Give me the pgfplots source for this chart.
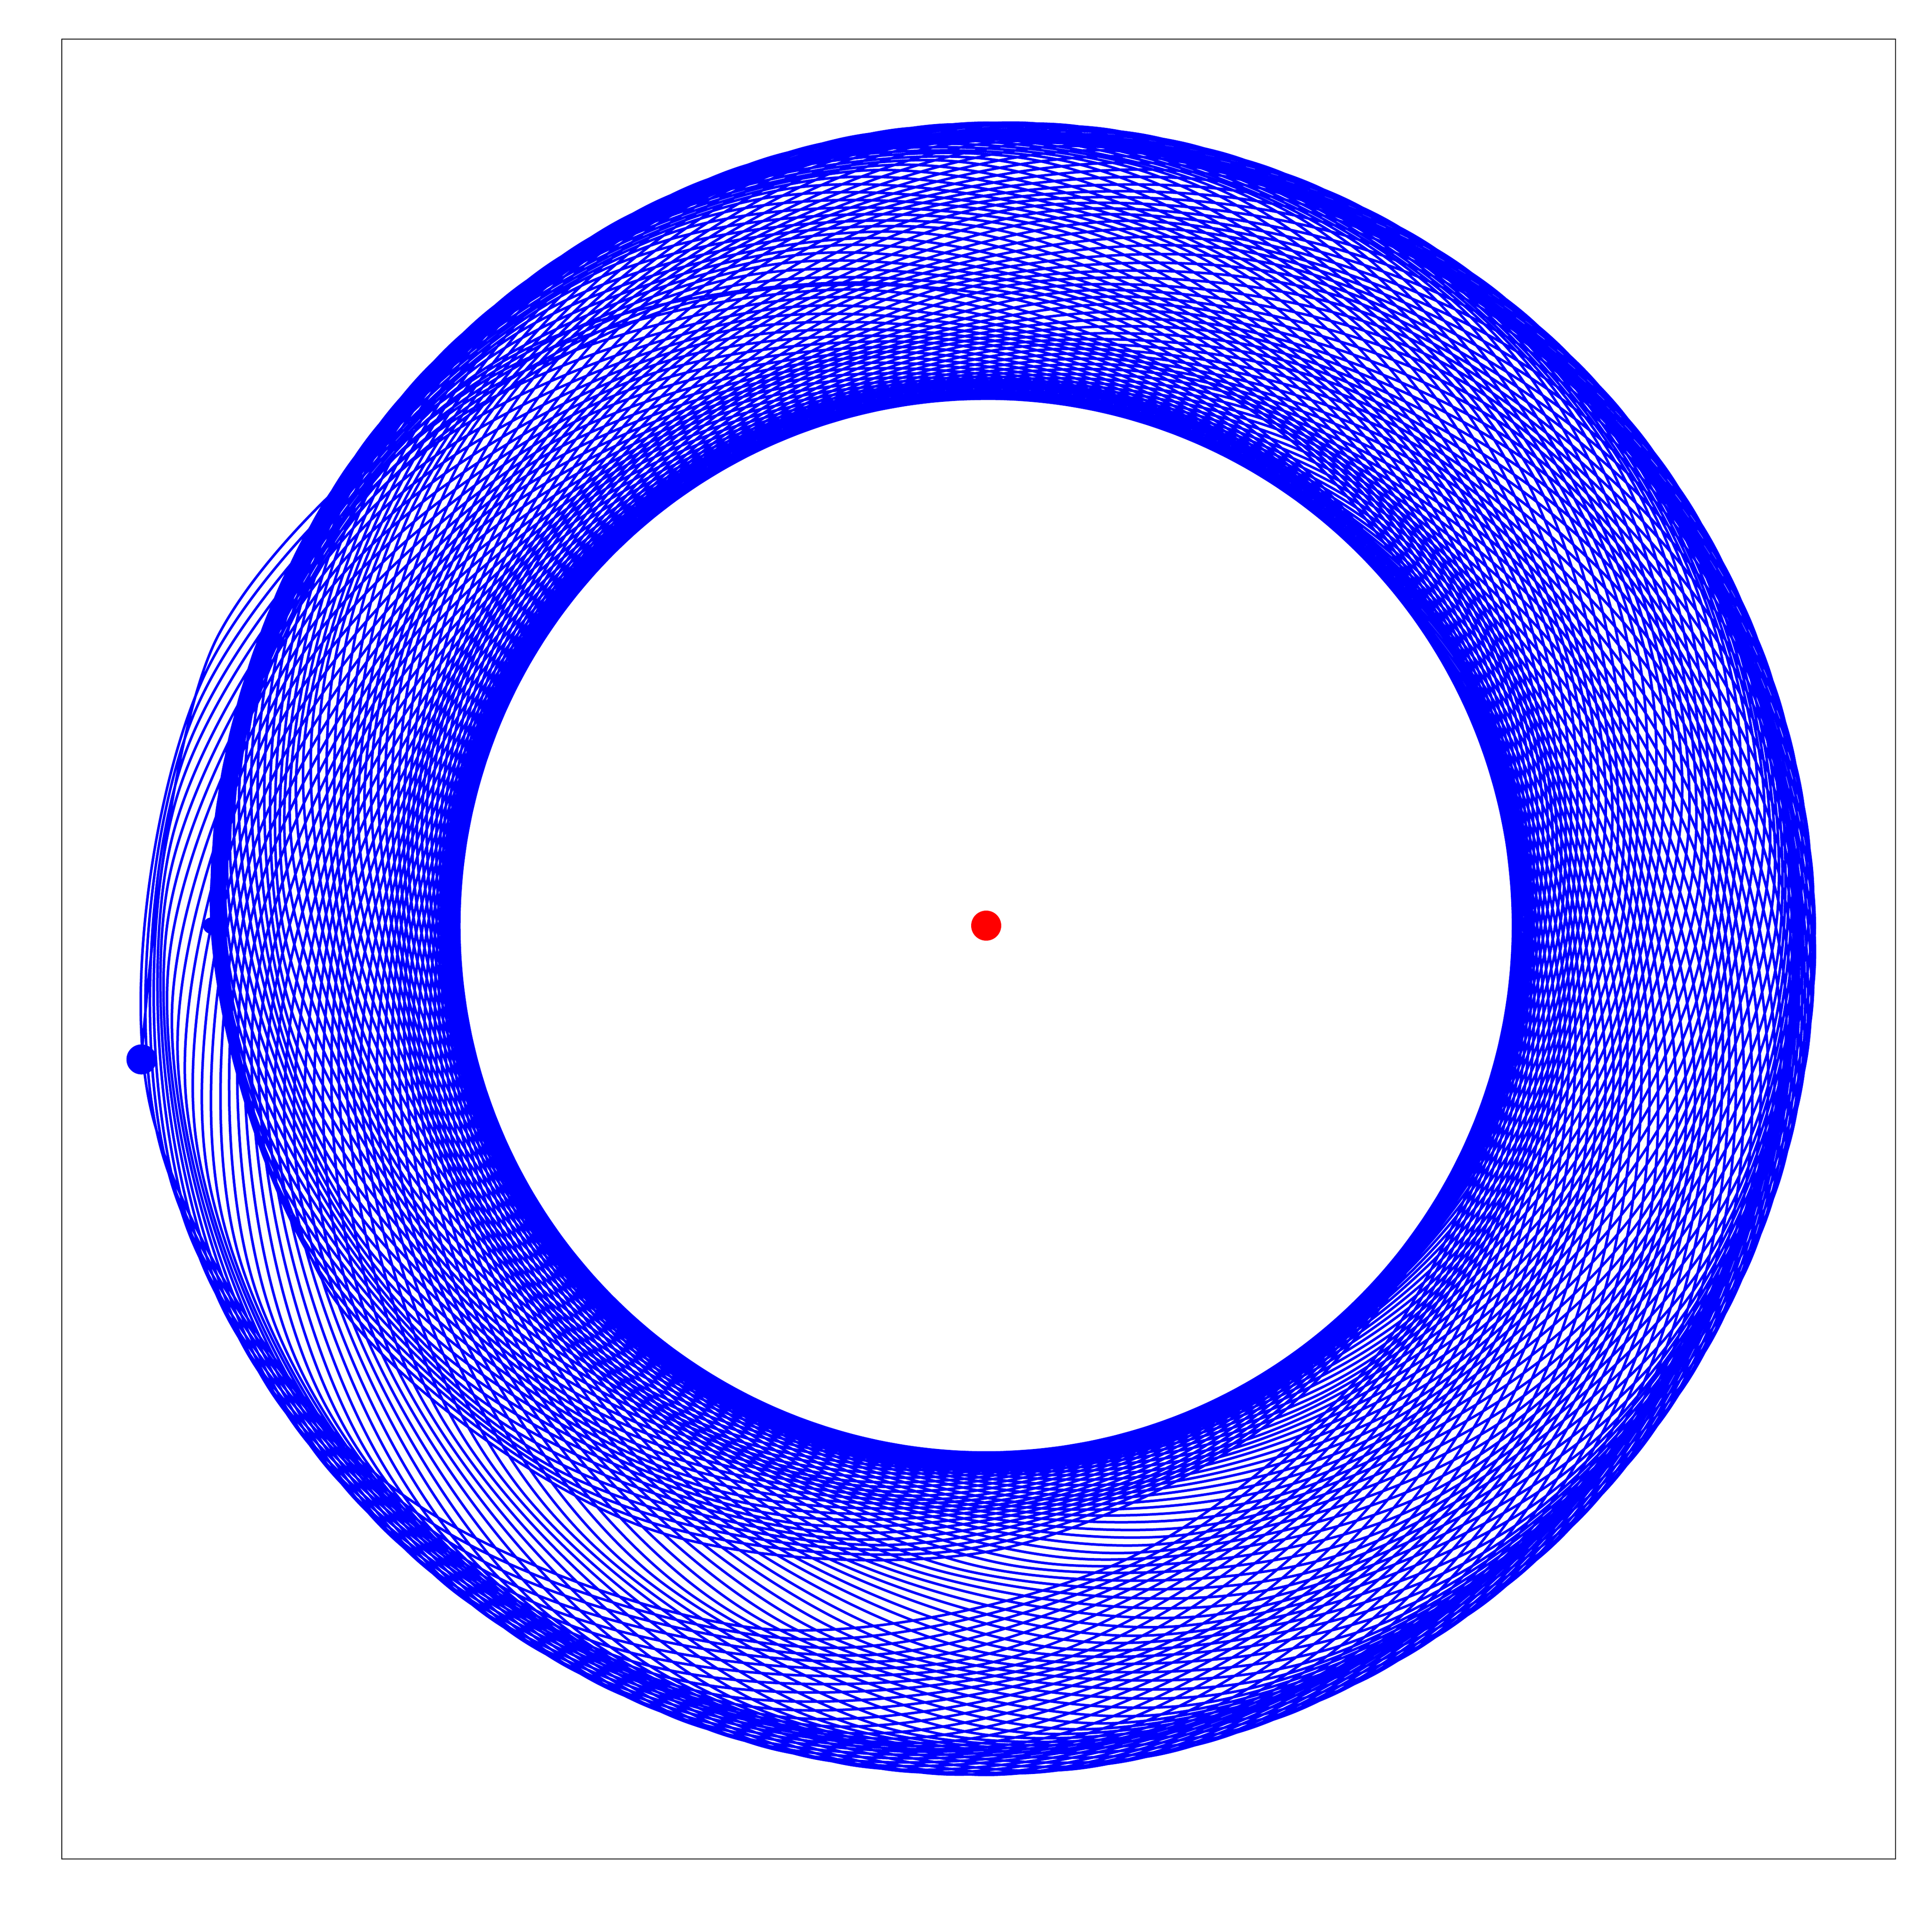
\documentclass[border=0pt]{standalone}
\usepackage{pgfplots}
\usepgfplotslibrary{polar}
\pgfplotsset{compat=1.18}
\begin{document}
\begin{tikzpicture}
\begin{axis}[
  scale only axis,
  width=427.1pt, height=423.9pt,
  xmin=-2153, xmax=2118, ymin=-2174, ymax=2065,
  xtick=\empty, ytick=\empty,
  axis line style={line width=0.25pt, black},
]
% orbit, polar data (angle in degrees, radius), one line per revolution
\addplot[blue, line width=0.6pt, smooth, tension=0.53, data cs=polar] coordinates {
(180,1805) (209.75,1750) (239.5,1616) (269.25,1462) (299,1335) (328.75,1255) (358.5,1228) (388.25,1255) (418,1335) (447.75,1462) (477.5,1617) (507.25,1751)
(177,1807) (206.75,1751) (236.5,1617) (266.25,1462) (296,1335) (325.75,1255) (355.5,1228) (385.25,1255) (415,1335) (444.75,1463) (474.5,1618) (504.25,1753)
(174,1809) (203.75,1753) (233.5,1618) (263.25,1463) (293,1335) (322.75,1255) (352.5,1228) (382.25,1255) (412,1335) (441.75,1464) (471.5,1620) (501.25,1756)
(171,1812) (200.75,1756) (230.5,1620) (260.25,1464) (290,1335) (319.75,1255) (349.5,1228) (379.25,1255) (409,1336) (438.75,1465) (468.5,1621) (498.25,1757)
(168,1814) (197.75,1757) (227.5,1621) (257.25,1465) (287,1336) (316.75,1255) (346.5,1228) (376.25,1255) (406,1336) (435.75,1465) (465.5,1622) (495.25,1759)
(165,1816) (194.75,1759) (224.5,1622) (254.25,1465) (284,1336) (313.75,1255) (343.5,1228) (373.25,1255) (403,1336) (432.75,1466) (462.5,1623) (492.25,1761)
(162,1818) (191.75,1761) (221.5,1623) (251.25,1466) (281,1336) (310.75,1255) (340.5,1228) (370.25,1255) (400,1336) (429.75,1466) (459.5,1624) (489.25,1763)
(159,1820) (188.75,1763) (218.5,1624) (248.25,1466) (278,1336) (307.75,1255) (337.5,1228) (367.25,1255) (397,1337) (426.75,1467) (456.5,1626) (486.25,1764)
(156,1822) (185.75,1764) (215.5,1626) (245.25,1467) (275,1337) (304.75,1255) (334.5,1228) (364.25,1255) (394,1337) (423.75,1468) (453.5,1627) (483.25,1767)
(153,1825) (182.75,1767) (212.5,1627) (242.25,1468) (272,1337) (301.75,1255) (331.5,1228) (361.25,1256) (391,1337) (420.75,1469) (450.5,1628) (480.25,1769)
(150,1827) (179.75,1769) (209.5,1628) (239.25,1469) (269,1337) (298.75,1256) (328.5,1228) (358.25,1256) (388,1338) (417.75,1469) (447.5,1630) (477.25,1770)
(147,1829) (176.75,1770) (206.5,1630) (236.25,1469) (266,1338) (295.75,1256) (325.5,1228) (355.25,1256) (385,1338) (414.75,1470) (444.5,1631) (474.25,1772)
(144,1831) (173.75,1772) (203.5,1631) (233.25,1470) (263,1338) (292.75,1256) (322.5,1228) (352.25,1256) (382,1338) (411.75,1470) (441.5,1632) (471.25,1774)
(141,1833) (170.75,1774) (200.5,1632) (230.25,1470) (260,1338) (289.75,1256) (319.5,1228) (349.25,1256) (379,1338) (408.75,1471) (438.5,1633) (468.25,1776)
(138,1835) (167.75,1776) (197.5,1633) (227.25,1471) (257,1338) (286.75,1256) (316.5,1228) (346.25,1256) (376,1339) (405.75,1472) (435.5,1635) (465.25,1778)
(135,1838) (164.75,1778) (194.5,1635) (224.25,1472) (254,1339) (283.75,1256) (313.5,1228) (343.25,1256) (373,1339) (402.75,1472) (432.5,1636) (462.25,1780)
(132,1840) (161.75,1780) (191.5,1636) (221.25,1472) (251,1339) (280.75,1256) (310.5,1228) (340.25,1256) (370,1339) (399.75,1473) (429.5,1637) (459.25,1782)
(129,1842) (158.75,1782) (188.5,1637) (218.25,1473) (248,1339) (277.75,1256) (307.5,1228) (337.25,1256) (367,1339) (396.75,1474) (426.5,1638) (456.25,1783)
(126,1844) (155.75,1783) (185.5,1638) (215.25,1474) (245,1339) (274.75,1256) (304.5,1228) (334.25,1256) (364,1340) (393.75,1474) (423.5,1639) (453.25,1785)
(123,1846) (152.75,1785) (182.5,1639) (212.25,1474) (242,1340) (271.75,1256) (301.5,1228) (331.25,1256) (361,1340) (390.75,1475) (420.5,1641) (450.25,1787)
(120,1848) (149.75,1787) (179.5,1641) (209.25,1475) (239,1340) (268.75,1256) (298.5,1228) (328.25,1256) (358,1340) (387.75,1476) (417.5,1642) (447.25,1790)
(117,1851) (146.75,1790) (176.5,1642) (206.25,1476) (236,1340) (265.75,1256) (295.5,1228) (325.25,1256) (355,1341) (384.75,1477) (414.5,1644) (444.25,1791)
(114,1853) (143.75,1791) (173.5,1644) (203.25,1477) (233,1341) (262.75,1256) (292.5,1228) (322.25,1256) (352,1341) (381.75,1477) (411.5,1645) (441.25,1793)
(111,1855) (140.75,1793) (170.5,1645) (200.25,1477) (230,1341) (259.75,1256) (289.5,1228) (319.25,1256) (349,1341) (378.75,1478) (408.5,1646) (438.25,1795)
(108,1857) (137.75,1795) (167.5,1646) (197.25,1478) (227,1341) (256.75,1256) (286.5,1228) (316.25,1256) (346,1341) (375.75,1478) (405.5,1647) (435.25,1797)
(105,1859) (134.75,1797) (164.5,1647) (194.25,1478) (224,1341) (253.75,1256) (283.5,1228) (313.25,1256) (343,1342) (372.75,1479) (402.5,1648) (432.25,1798)
(102,1861) (131.75,1798) (161.5,1648) (191.25,1479) (221,1342) (250.75,1256) (280.5,1228) (310.25,1257) (340,1342) (369.75,1480) (399.5,1650) (429.25,1801)
(99,1864) (128.75,1801) (158.5,1650) (188.25,1480) (218,1342) (247.75,1257) (277.5,1228) (307.25,1257) (337,1342) (366.75,1480) (396.5,1651) (426.25,1803)
(96,1866) (125.75,1803) (155.5,1651) (185.25,1480) (215,1342) (244.75,1257) (274.5,1228) (304.25,1257) (334,1342) (363.75,1481) (393.5,1652) (423.25,1804)
(93,1868) (122.75,1804) (152.5,1652) (182.25,1481) (212,1342) (241.75,1257) (271.5,1228) (301.25,1257) (331,1343) (360.75,1482) (390.5,1653) (420.25,1806)
(90,1870) (119.75,1806) (149.5,1653) (179.25,1482) (209,1343) (238.75,1257) (268.5,1228) (298.25,1257) (328,1343) (357.75,1482) (387.5,1655) (417.25,1808)
(87,1872) (116.75,1808) (146.5,1655) (176.25,1482) (206,1343) (235.75,1257) (265.5,1228) (295.25,1257) (325,1343) (354.75,1483) (384.5,1656) (414.25,1810)
(84,1874) (113.75,1810) (143.5,1656) (173.25,1483) (203,1343) (232.75,1257) (262.5,1228) (292.25,1257) (322,1343) (351.75,1484) (381.5,1657) (411.25,1811)
(81,1876) (110.75,1811) (140.5,1657) (170.25,1484) (200,1343) (229.75,1257) (259.5,1228) (289.25,1257) (319,1344) (348.75,1484) (378.5,1658) (408.25,1813)
(78,1878) (107.75,1813) (137.5,1658) (167.25,1484) (197,1344) (226.75,1257) (256.5,1228) (286.25,1257) (316,1344) (345.75,1485) (375.5,1659) (405.25,1815)
(75,1880) (104.75,1815) (134.5,1659) (164.25,1485) (194,1344) (223.75,1257) (253.5,1228) (283.25,1257) (313,1344) (342.75,1485) (372.5,1660) (402.25,1816)
(72,1882) (101.75,1816) (131.5,1660) (161.25,1485) (191,1344) (220.75,1257) (250.5,1228) (280.25,1257) (310,1345) (339.75,1486) (369.5,1661) (399.25,1818)
(69,1884) (98.75,1818) (128.5,1661) (158.25,1486) (188,1345) (217.75,1257) (247.5,1228) (277.25,1257) (307,1345) (336.75,1487) (366.5,1663) (396.25,1820)
(66,1886) (95.75,1820) (125.5,1663) (155.25,1487) (185,1345) (214.75,1257) (244.5,1228) (274.25,1257) (304,1345) (333.75,1487) (363.5,1664) (393.25,1822)
(63,1888) (92.75,1822) (122.5,1664) (152.25,1487) (182,1345) (211.75,1257) (241.5,1228) (271.25,1257) (301,1345) (330.75,1488) (360.5,1665) (390.25,1823)
(60,1890) (89.75,1823) (119.5,1665) (149.25,1488) (179,1345) (208.75,1257) (238.5,1228) (268.25,1257) (298,1346) (327.75,1488) (357.5,1666) (387.25,1825)
(57,1892) (86.75,1825) (116.5,1666) (146.25,1488) (176,1346) (205.75,1257) (235.5,1228) (265.25,1257) (295,1346) (324.75,1489) (354.5,1667) (384.25,1827)
(54,1894) (83.75,1827) (113.5,1667) (143.25,1489) (173,1346) (202.75,1257) (232.5,1228) (262.25,1257) (292,1346) (321.75,1490) (351.5,1668) (381.25,1829)
(51,1896) (80.75,1829) (110.5,1668) (140.25,1490) (170,1346) (199.75,1257) (229.5,1228) (259.25,1257) (289,1346) (318.75,1490) (348.5,1670) (378.25,1830)
(48,1898) (77.75,1830) (107.5,1670) (137.25,1490) (167,1346) (196.75,1257) (226.5,1228) (256.25,1258) (286,1347) (315.75,1491) (345.5,1671) (375.25,1832)
(45,1900) (74.75,1832) (104.5,1671) (134.25,1491) (164,1347) (193.75,1258) (223.5,1228) (253.25,1258) (283,1347) (312.75,1492) (342.5,1672) (372.25,1834)
(42,1902) (71.75,1834) (101.5,1672) (131.25,1492) (161,1347) (190.75,1258) (220.5,1228) (250.25,1258) (280,1347) (309.75,1492) (339.5,1673) (369.25,1836)
(39,1904) (68.75,1836) (98.5,1673) (128.25,1492) (158,1347) (187.75,1258) (217.5,1228) (247.25,1258) (277,1347) (306.75,1493) (336.5,1674) (366.25,1837)
(36,1906) (65.75,1837) (95.5,1674) (125.25,1493) (155,1347) (184.75,1258) (214.5,1228) (244.25,1258) (274,1348) (303.75,1493) (333.5,1675) (363.25,1839)
(33,1908) (62.75,1839) (92.5,1675) (122.25,1493) (152,1348) (181.75,1258) (211.5,1228) (241.25,1258) (271,1348) (300.75,1494) (330.5,1677) (360.25,1841)
(30,1910) (59.75,1841) (89.5,1677) (119.25,1494) (149,1348) (178.75,1258) (208.5,1228) (238.25,1258) (268,1348) (297.75,1495) (327.5,1678) (357.25,1843)
(27,1912) (56.75,1843) (86.5,1678) (116.25,1495) (146,1348) (175.75,1258) (205.5,1228) (235.25,1258) (265,1348) (294.75,1495) (324.5,1679) (354.25,1844)
(24,1914) (53.75,1844) (83.5,1679) (113.25,1495) (143,1348) (172.75,1258) (202.5,1228) (232.25,1258) (262,1349) (291.75,1496) (321.5,1680) (351.25,1846)
(21,1916) (50.75,1846) (80.5,1680) (110.25,1496) (140,1349) (169.75,1258) (199.5,1228) (229.25,1258) (259,1349) (288.75,1496) (318.5,1681) (348.25,1848)
(18,1918) (47.75,1848) (77.5,1681) (107.25,1496) (137,1349) (166.75,1258) (196.5,1228) (226.25,1258) (256,1349) (285.75,1497) (315.5,1682) (345.25,1850)
(15,1920) (44.75,1850) (74.5,1682) (104.25,1497) (134,1349) (163.75,1258) (193.5,1228) (223.25,1258) (253,1349) (282.75,1498) (312.5,1683) (342.25,1851)
(12,1922) (41.75,1851) (71.5,1683) (101.25,1498) (131,1349) (160.75,1258) (190.5,1228) (220.25,1258) (250,1350) (279.75,1498) (309.5,1685) (339.25,1853)
(9,1924) (38.75,1853) (68.5,1685) (98.25,1498) (128,1350) (157.75,1258) (187.5,1228) (217.25,1258) (247,1350) (276.75,1499) (306.5,1686) (336.25,1855)
(6,1926) (35.75,1855) (65.5,1686) (95.25,1499) (125,1350) (154.75,1258) (184.5,1228) (214.25,1258) (244,1350) (273.75,1499) (303.5,1687) (333.25,1856)
(3,1928) (32.75,1856) (62.5,1687) (92.25,1499) (122,1350) (151.75,1258) (181.5,1228) (211.25,1258) (241,1350) (270.75,1500) (300.5,1688) (330.25,1858)
(0,1930) (29.75,1858) (59.5,1688) (89.25,1500) (119,1350) (148.75,1258) (178.5,1228) (208.25,1258) (238,1351) (267.75,1501) (297.5,1689) (327.25,1860)
(357,1932) (386.75,1860) (416.5,1689) (446.25,1501) (476,1351) (505.75,1258) (535.5,1228) (565.25,1258) (595,1351) (624.75,1501) (654.5,1690) (684.25,1861)
(354,1933) (383.75,1861) (413.5,1690) (443.25,1501) (473,1351) (502.75,1258) (532.5,1228) (562.25,1258) (592,1351) (621.75,1502) (651.5,1691) (681.25,1863)
(351,1935) (380.75,1863) (410.5,1691) (440.25,1502) (470,1351) (499.75,1258) (529.5,1228) (559.25,1258) (589,1351) (618.75,1502) (648.5,1692) (678.25,1863)
(348,1936) (377.75,1863) (407.5,1692) (437.25,1502) (467,1351) (496.75,1258) (526.5,1228) (556.25,1259) (586,1351) (615.75,1503) (645.5,1693) (675.25,1865)
(345,1938) (374.75,1865) (404.5,1693) (434.25,1503) (464,1351) (493.75,1259) (523.5,1228) (553.25,1259) (583,1352) (612.75,1503) (642.5,1694) (672.25,1867)
(342,1940) (371.75,1867) (401.5,1694) (431.25,1503) (461,1352) (490.75,1259) (520.5,1228) (550.25,1259) (580,1352) (609.75,1503) (639.5,1694) (669.25,1868)
(339,1941) (368.75,1868) (398.5,1694) (428.25,1503) (458,1352) (487.75,1259) (517.5,1228) (547.25,1259) (577,1352) (606.75,1504) (636.5,1696) (666.25,1869)
(336,1943) (365.75,1869) (395.5,1696) (425.25,1504) (455,1352) (484.75,1259) (514.5,1228) (544.25,1259) (574,1352) (603.75,1504) (633.5,1696) (663.25,1870)
(333,1944) (362.75,1870) (392.5,1696) (422.25,1504) (452,1352) (481.75,1259) (511.5,1228) (541.25,1259) (571,1352) (600.75,1505) (630.5,1697) (660.25,1872)
(330,1946) (359.75,1872) (389.5,1697) (419.25,1505) (449,1352) (478.75,1259) (508.5,1228) (538.25,1259) (568,1353) (597.75,1506) (627.5,1699) (657.25,1874)
(327,1948) (356.75,1874) (386.5,1699) (416.25,1506) (446,1353) (475.75,1259) (505.5,1228) (535.25,1259) (565,1353) (594.75,1506) (624.5,1699) (654.25,1875)
(324,1949) (353.75,1875) (383.5,1699) (413.25,1506) (443,1353) (472.75,1259) (502.5,1228) (532.25,1259) (562,1353) (591.75,1507) (621.5,1700) (651.25,1876)
(321,1951) (350.75,1876) (380.5,1700) (410.25,1507) (440,1353) (469.75,1259) (499.5,1228) (529.25,1259) (559,1353) (588.75,1507) (618.5,1701) (648.25,1877)
(318,1952) (347.75,1877) (377.5,1701) (407.25,1507) (437,1353) (466.75,1259) (496.5,1228) (526.25,1259) (556,1353) (585.75,1507) (615.5,1702) (645.25,1879)
(315,1954) (344.75,1879) (374.5,1702) (404.25,1507) (434,1353) (463.75,1259) (493.5,1228) (523.25,1259) (553,1354) (582.75,1508) (612.5,1703) (642.25,1881)
(312,1956) (341.75,1881) (371.5,1703) (401.25,1508) (431,1354) (460.75,1259) (490.5,1228) (520.25,1259) (550,1354) (579.75,1508) (609.5,1704) (639.25,1882)
(309,1957) (338.75,1882) (368.5,1704) (398.25,1508) (428,1354) (457.75,1259) (487.5,1228) (517.25,1259) (547,1354) (576.75,1509) (606.5,1705) (636.25,1883)
(306,1959) (335.75,1883) (365.5,1705) (395.25,1509) (425,1354) (454.75,1259) (484.5,1228) (514.25,1259) (544,1354) (573.75,1509) (603.5,1705) (633.25,1884)
(303,1960) (332.75,1884) (362.5,1705) (392.25,1509) (422,1354) (451.75,1259) (481.5,1228) (511.25,1259) (541,1354) (570.75,1510) (600.5,1707) (630.25,1886)
(300,1962) (329.75,1886) (359.5,1707) (389.25,1510) (419,1354) (448.75,1259) (478.5,1228) (508.25,1259) (538,1355) (567.75,1510) (597.5,1708) (627.25,1888)
(297,1964) (326.75,1888) (356.5,1708) (386.25,1510) (416,1355) (445.75,1259) (475.5,1228) (505.25,1259) (535,1355) (564.75,1511) (594.5,1708) (624.25,1889)
(294,1965) (323.75,1889) (353.5,1708) (383.25,1511) (413,1355) (442.75,1259) (472.5,1228) (502.25,1259) (532,1355) (561.75,1511) (591.5,1710) (621.25,1890)
(291,1967) (320.75,1890) (350.5,1710) (380.25,1511) (410,1355) (439.75,1259) (469.5,1228) (499.25,1259) (529,1355) (558.75,1512) (588.5,1710) (618.25,1891)
(288,1968) (317.75,1891) (347.5,1710) (377.25,1512) (407,1355) (436.75,1259) (466.5,1228) (496.25,1259) (526,1355) (555.75,1512) (585.5,1711) (615.25,1893)
(285,1970) (314.75,1893) (344.5,1711) (374.25,1512) (404,1355) (433.75,1259) (463.5,1228) (493.25,1259) (523,1356) (552.75,1513) (582.5,1712) (612.25,1895)
(282,1972) (311.75,1895) (341.5,1712) (371.25,1513) (401,1356) (430.75,1259) (460.5,1228) (490.25,1259) (520,1356) (549.75,1513) (579.5,1713) (609.25,1896)
(279,1973) (308.75,1896) (338.5,1713) (368.25,1513) (398,1356) (427.75,1259) (457.5,1228) (487.25,1260) (517,1356) (546.75,1514) (576.5,1714) (606.25,1897)
(276,1975) (305.75,1897) (335.5,1714) (365.25,1514) (395,1356) (424.75,1260) (454.5,1228) (484.25,1260) (514,1356) (543.75,1514) (573.5,1715) (603.25,1898)
(273,1976) (302.75,1898) (332.5,1715) (362.25,1514) (392,1356) (421.75,1260) (451.5,1228) (481.25,1260) (511,1356) (540.75,1515) (570.5,1716) (600.25,1900)
(270,1978) (299.75,1900) (329.5,1716) (359.25,1515) (389,1356) (418.75,1260) (448.5,1228) (478.25,1260) (508,1356) (537.75,1515) (567.5,1716) (597.25,1901)
(267,1979) (296.75,1901) (326.5,1716) (356.25,1515) (386,1356) (415.75,1260) (445.5,1228) (475.25,1260) (505,1356) (534.75,1515) (564.5,1716) (594.25,1901)
(264,1979) (293.75,1901) (323.5,1716) (353.25,1515) (383,1356) (412.75,1260) (442.5,1228) (472.25,1260) (502,1357) (531.75,1515) (561.5,1717) (591.25,1902)
(261,1980) (290.75,1902) (320.5,1717) (350.25,1515) (380,1357) (409.75,1260) (439.5,1228) (469.25,1260) (499,1357) (528.75,1515) (558.5,1717) (588.25,1902)
(258,1980) (287.75,1902) (317.5,1717) (347.25,1515) (377,1357) (406.75,1260) (436.5,1228) (466.25,1260) (496,1357) (525.75,1516) (555.5,1718) (585.25,1903)
(255,1981) (284.75,1903) (314.5,1718) (344.25,1516) (374,1357) (403.75,1260) (433.5,1228) (463.25,1260) (493,1357) (522.75,1516) (552.5,1718) (582.25,1903)
(252,1981) (281.75,1903) (311.5,1718) (341.25,1516) (371,1357) (400.75,1260) (430.5,1228) (460.25,1260) (490,1357) (519.75,1516) (549.5,1718) (579.25,1903)
(249,1982) (278.75,1903) (308.5,1718) (338.25,1516) (368,1357) (397.75,1260) (427.5,1228) (457.25,1260) (487,1357) (516.75,1516) (546.5,1718) (576.25,1903)
(246,1982) (275.75,1903) (305.5,1718) (335.25,1516) (365,1357) (394.75,1260) (424.5,1228) (454.25,1260) (484,1357) (513.75,1516) (543.5,1719) (573.25,1904)
(243,1983) (272.75,1904) (302.5,1719) (332.25,1516) (362,1357) (391.75,1260) (421.5,1228) (451.25,1260) (481,1357) (510.75,1516) (540.5,1719) (570.25,1904)
(240,1983) (269.75,1904) (299.5,1719) (329.25,1516) (359,1357) (388.75,1260) (418.5,1228) (448.25,1260) (478,1357) (507.75,1517) (537.5,1719) (567.25,1905)
(237,1984) (266.75,1905) (296.5,1719) (326.25,1517) (356,1357) (385.75,1260) (415.5,1228) (445.25,1260) (475,1357) (504.75,1517) (534.5,1719) (564.25,1905)
(234,1984) (263.75,1905) (293.5,1719) (323.25,1517) (353,1357) (382.75,1260) (412.5,1228) (442.25,1260) (472,1357) (501.75,1517) (531.5,1720) (561.25,1906)
(231,1985) (260.75,1906) (290.5,1720) (320.25,1517) (350,1357) (379.75,1260) (409.5,1228) (439.25,1260) (469,1357) (498.75,1517) (528.5,1720) (558.25,1906)
(228,1985) (257.75,1906) (287.5,1720) (317.25,1517) (347,1357) (376.75,1260) (406.5,1228) (436.25,1260) (466,1357) (495.75,1517) (525.5,1721) (555.25,1907)
(225,1986) (254.75,1907) (284.5,1721) (314.25,1517) (344,1357) (373.75,1260) (403.5,1228) (433.25,1260) (463,1357) (492.75,1517) (522.5,1721) (552.25,1907)
(222,1986) (251.75,1907) (281.5,1721) (311.25,1517) (341,1357) (370.75,1260) (400.5,1228) (430.25,1260) (460,1357) (489.75,1518) (519.5,1721) (549.25,1908)
(219,1987) (248.75,1908) (278.5,1721) (308.25,1518) (338,1357) (367.75,1260) (397.5,1228) (427.25,1260) (457,1357) (486.75,1518) (516.5,1721) (546.25,1908)
(216,1987) (245.75,1908) (275.5,1721) (305.25,1518) (335,1357) (364.75,1260) (394.5,1228) (424.25,1260) (454,1358) (483.75,1518) (513.5,1722) (543.25,1909)
(213,1988) (242.75,1909) (272.5,1722) (302.25,1518) (332,1358) (361.75,1260) (391.5,1228) (421.25,1260) (451,1358) (480.75,1518) (510.5,1722) (540.25,1909)
(210,1988) (239.75,1909) (269.5,1722) (299.25,1518) (329,1358) (358.75,1260) (388.5,1228) (418.25,1260) (448,1358) (477.75,1518) (507.5,1722) (537.25,1909)
(207,1989) (236.75,1909) (266.5,1722) (296.25,1518) (326,1358) (355.75,1260) (385.5,1228) (415.25,1260) (445,1358) (474.75,1518) (504.5,1722) (534.25,1909)
(204,1989) (233.75,1909) (263.5,1722) (293.25,1518) (323,1358) (352.75,1260) (382.5,1228) (412.25,1260) (442,1358) (471.75,1518) (501.5,1723) (531.25,1910)
(201,1990) (230.75,1910) (260.5,1723) (290.25,1518) (320,1358) (349.75,1260) (379.5,1228) (409.25,1260) (439,1358) (468.75,1518) (498.5,1723) (528.25,1910)
(198,1990) (227.75,1910) (257.5,1723) (287.25,1518) (317,1358) (346.75,1260) (376.5,1228) (406.25,1260) (436,1358) (465.75,1519) (495.5,1723) (525.25,1911)
(195,1991) (224.75,1911) (254.5,1723) (284.25,1519) (314,1358) (343.75,1260) (373.5,1228) (403.25,1260) (433,1358) (462.75,1519) (492.5,1724) (522.25,1912)
(192,1992) (221.75,1912) (251.5,1724) (281.25,1519) (311,1358) (340.75,1260) (370.5,1228) (400.25,1260) (430,1358) (459.75,1519) (489.5,1724) (519.25,1912)
(189,1992)
};
% start and end of the orbit
\addplot[only marks, mark=*, blue, mark size=1.7pt, data cs=polar] coordinates {(180,1805)};
\addplot[only marks, mark=*, blue, mark size=3.3pt, data cs=polar] coordinates {(189,1992)};
% central body
\addplot[only marks, mark=*, red, mark size=3.3pt] coordinates {(0,0)};
\end{axis}
\path ([shift={(-14.4pt,-17pt)}]current axis.south west) rectangle ([shift={(8.5pt,9.1pt)}]current axis.north east);
\end{tikzpicture}
\end{document}
